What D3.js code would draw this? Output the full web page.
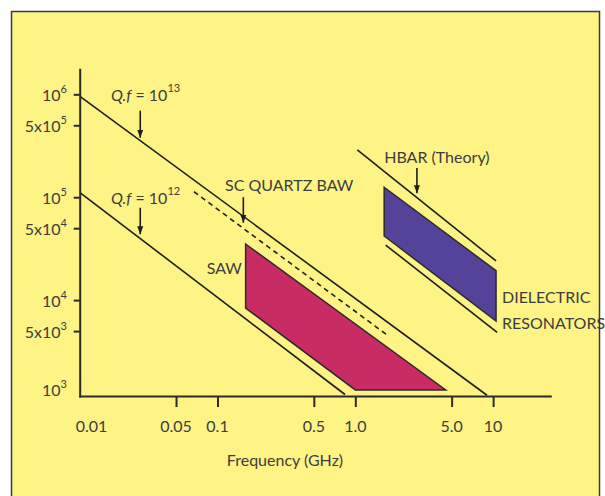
<!DOCTYPE html>
<html>
<head>
<meta charset="utf-8">
<script src="https://cdn.jsdelivr.net/npm/d3@7"></script>
<style>
  html, body { margin: 0; padding: 0; background: #fff; }
  text { font-family: Lato, "Open Sans", sans-serif; fill: #3d3d3d; }
</style>
</head>
<body>
<svg id="chart" width="605" height="496"></svg>
<script>
// axis ticks and labels
const xTickVals = [0.05, 0.1, 0.5, 1, 5, 10];
const xLabelVals = [0.01, 0.05, 0.1, 0.5, 1, 5, 10];
const xLabelText = ['0.01', '0.05', '0.1', '0.5', '1.0', '5.0', '10'];
const yTickVals = [1e6, 5e5, 1e5, 5e4, 1e4, 5e3];
const yLabelVals = [1e6, 5e5, 1e5, 5e4, 1e4, 5e3, 1e3];
const yLabelBase = ['10', '5x10', '10', '5x10', '10', '5x10', '10'];
const yLabelExp = ['6', '5', '5', '4', '4', '3', '3'];

// lines (frequency in GHz, Q)
const qf13 = [{f: 0.0101, q: 9.5e5}, {f: 9.03, q: 1190}];
const qf12 = [{f: 0.0101, q: 1.1e5}, {f: 0.842, q: 1210}];
const quartzBaw = [{f: 0.0675, q: 1.13e5}, {f: 1.71, q: 4550}];
const hbarTheory = [{f: 1.034, q: 2.88e5}, {f: 10.5, q: 2.4e4}];
const dielectric = [{f: 1.66, q: 3.43e4}, {f: 10.7, q: 4860}];

// regions
const sawRegion = [{f: 0.16, q: 3.51e4}, {f: 4.53, q: 1340}, {f: 1.0, q: 1340}, {f: 0.16, q: 8380}];
const hbarRegion = [{f: 1.62, q: 1.25e5}, {f: 10.5, q: 1.93e4}, {f: 10.5, q: 6270}, {f: 1.62, q: 4.2e4}];

// annotations
const arrows = [
  {f: 0.0275, from: 6.93e5, to: 3.78e5},
  {f: 0.0275, from: 7.9e4, to: 4.36e4},
  {f: 0.154, from: 1.0e5, to: 5.65e4},
  {f: 2.8, from: 1.92e5, to: 1.09e5}
];
const labels = [
  {f: 0.0169, q: 8.6e5, italic: 'Q.f', text: ' = 10', sup: '13'},
  {f: 0.0169, q: 8.6e4, italic: 'Q.f', text: ' = 10', sup: '12'},
  {f: 0.1134, q: 1.16e5, text: 'SC QUARTZ BAW'},
  {f: 0.0835, q: 1.78e4, text: 'SAW'},
  {f: 1.62, q: 2.13e5, text: 'HBAR (Theory)'},
  {f: 11.6, q: 9.3e3, text: 'DIELECTRIC'},
  {f: 11.6, q: 5.2e3, text: 'RESONATORS'}
];

const svg = d3.select('#chart');

// yellow panel
svg.append('rect')
   .attr('x', 11.5).attr('y', 11.5)
   .attr('width', 588).attr('height', 500)
   .style('fill', '#fef385')
   .style('stroke', '#3a3a3a')
   .style('stroke-width', 1.5);

const x = d3.scaleLog().domain([0.01, 26]).range([79.7, 550.3]);
const y = d3.scaleLog().domain([1170, 1.75e6]).range([396, 69.3]);

const line = d3.line().x(d => x(d.f)).y(d => y(d.q));

// regions
svg.selectAll('path.region')
   .data([{pts: sawRegion, c: '#c92b65'}, {pts: hbarRegion, c: '#55439a'}])
   .enter()
   .append('path')
   .attr('class', 'region')
   .attr('d', d => line(d.pts) + 'Z')
   .style('fill', d => d.c)
   .style('stroke', '#2a2a2a')
   .style('stroke-width', 1.5)
   .style('stroke-linejoin', 'miter');

// Q.f lines
svg.selectAll('path.qline')
   .data([qf13, qf12, hbarTheory, dielectric])
   .enter()
   .append('path')
   .attr('class', 'qline')
   .attr('d', line)
   .style('fill', 'none')
   .style('stroke', '#1e1e1e')
   .style('stroke-width', 1.6);

svg.append('path')
   .attr('d', line(quartzBaw))
   .style('fill', 'none')
   .style('stroke', '#1e1e1e')
   .style('stroke-width', 1.6)
   .style('stroke-dasharray', '5,4');

// axes
const xAxis = d3.axisBottom(x).tickValues(xTickVals).tickSize(11).tickSizeOuter(0).tickFormat('');
const yAxis = d3.axisLeft(y).tickValues(yTickVals).tickSize(6).tickSizeOuter(0).tickFormat('');

const gx = svg.append('g').attr('transform', `translate(0, ${y.range()[0]})`).call(xAxis);
const gy = svg.append('g').attr('transform', `translate(${x.range()[0]}, 0)`).call(yAxis);
[gx, gy].forEach(g => {
  g.selectAll('path, line').style('stroke', '#2a2a2a').style('stroke-width', 2);
  g.select('path.domain').style('stroke-linecap', 'square');
});

// x tick labels
svg.selectAll('text.xlab')
   .data(xLabelVals)
   .enter()
   .append('text')
   .attr('class', 'xlab')
   .attr('x', (d, i) => i == 0 ? x(d) - 4 : x(d))
   .attr('y', 432)
   .style('text-anchor', (d, i) => i == 0 ? 'start' : 'middle')
   .style('font-size', '16px')
   .text((d, i) => xLabelText[i]);

// y tick labels
const ylab = svg.selectAll('text.ylab')
   .data(yLabelVals)
   .enter()
   .append('text')
   .attr('class', 'ylab')
   .attr('x', 67)
   .attr('y', d => Math.min(y(d) + 7, y.range()[0]))
   .style('text-anchor', 'end')
   .style('font-size', '16px');
ylab.append('tspan').text((d, i) => yLabelBase[i]);
ylab.append('tspan')
    .attr('dy', -8)
    .style('font-size', '11px')
    .text((d, i) => yLabelExp[i]);

// axis title
svg.append('text')
   .attr('x', 285)
   .attr('y', 466)
   .style('text-anchor', 'middle')
   .style('font-size', '16px')
   .text('Frequency (GHz)');

// arrows
svg.append('defs').append('marker')
   .attr('id', 'head')
   .attr('markerUnits', 'userSpaceOnUse')
   .attr('viewBox', '0 0 8 8')
   .attr('refX', 8).attr('refY', 4)
   .attr('markerWidth', 8).attr('markerHeight', 8)
   .attr('orient', 'auto')
   .append('path')
   .attr('d', 'M0,1 L8,4 L0,7 Z')
   .style('fill', '#1e1e1e');

svg.selectAll('line.arrow')
   .data(arrows)
   .enter()
   .append('line')
   .attr('class', 'arrow')
   .attr('x1', d => x(d.f)).attr('x2', d => x(d.f))
   .attr('y1', d => y(d.from)).attr('y2', d => y(d.to))
   .attr('marker-end', 'url(#head)')
   .style('stroke', '#1e1e1e')
   .style('stroke-width', 1.6);

// labels
const lab = svg.selectAll('text.note')
   .data(labels)
   .enter()
   .append('text')
   .attr('class', 'note')
   .attr('x', d => x(d.f))
   .attr('y', d => y(d.q))
   .style('font-size', '16px');
lab.filter(d => d.italic).append('tspan').style('font-style', 'italic').text(d => d.italic);
lab.append('tspan').text(d => d.text);
lab.filter(d => d.sup).append('tspan')
   .attr('dy', -9)
   .style('font-size', '11px')
   .text(d => d.sup);
</script>
</body>
</html>
